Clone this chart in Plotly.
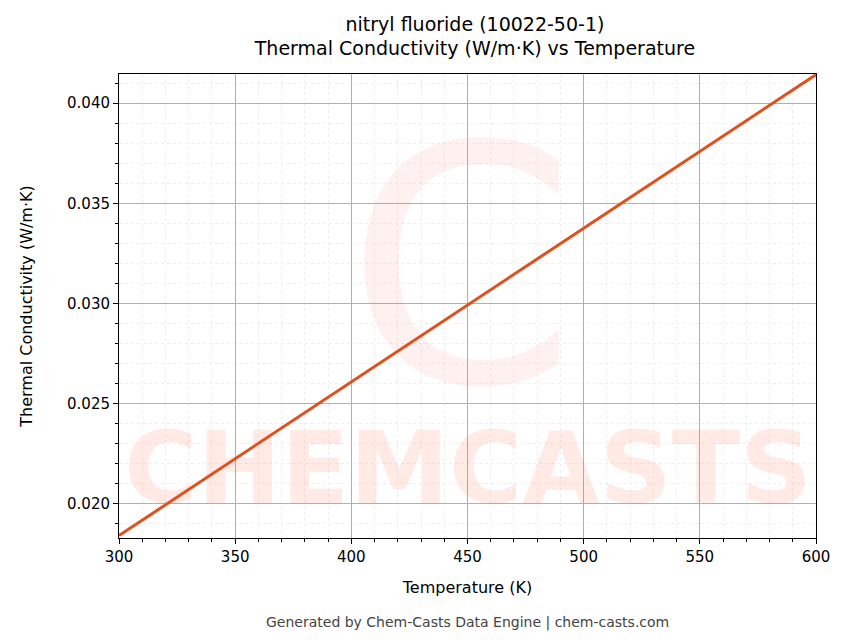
import plotly.graph_objects as go

temperature = [300, 350, 400, 450, 500, 550, 600]
conductivity = [0.01842, 0.02225, 0.02608, 0.02992, 0.03375, 0.03758, 0.04142]

fig = go.Figure()
fig.add_trace(go.Scatter(x=temperature, y=conductivity, mode="lines",
                         line=dict(color="#e0501e", width=3), showlegend=False))

minor = dict(showgrid=True, gridcolor="#eeeeee", gridwidth=0.5, griddash="dot", ticklen=3, tickcolor="black")
fig.update_xaxes(range=[300, 600], dtick=50, showgrid=True, gridcolor="#b0b0b0", gridwidth=0.7,
                 showline=True, linecolor="black", mirror=True, ticks="outside", tickcolor="black",
                 minor=dict(dtick=10, ticks="outside", **minor),
                 title=dict(text="Temperature (K)", font=dict(size=16), standoff=16), tickfont=dict(size=15), zeroline=False)
fig.update_yaxes(range=[0.0183, 0.04145], dtick=0.005, tickformat=".3f", showgrid=True, gridcolor="#b0b0b0",
                 gridwidth=0.7, showline=True, linecolor="black", mirror=True, ticks="outside", tickcolor="black",
                 minor=dict(dtick=0.001, ticks="outside", **minor),
                 title=dict(text="Thermal Conductivity (W/m·K)", font=dict(size=16), standoff=30), tickfont=dict(size=15), zeroline=False)

fig.add_annotation(text="<b>CHEMCASTS</b>", x=0.5, y=0.02, xref="paper", yref="paper", showarrow=False,
                   yanchor="bottom", font=dict(size=100, color="rgba(255,80,50,0.12)", family="DejaVu Sans"))
fig.add_annotation(text="C", x=0.49, y=1.0, xref="paper", yref="paper", showarrow=False, yanchor="top",
                   font=dict(size=330, color="rgba(255,80,50,0.08)", family="DejaVu Sans"))
fig.add_annotation(text="Generated by Chem-Casts Data Engine | chem-casts.com", x=0.5, y=-0.16,
                   xref="paper", yref="paper", showarrow=False, yanchor="top", font=dict(size=14, color="#444444"))

fig.update_layout(width=849, height=644, plot_bgcolor="white", paper_bgcolor="white",
                  font=dict(family="DejaVu Sans", color="black"),
                  title=dict(text="nitryl fluoride (10022-50-1)<br>Thermal Conductivity (W/m·K) vs Temperature",
                             x=0.55, xanchor="center", y=0.965, font=dict(size=19)),
                  margin=dict(l=111, r=41, t=66, b=114))
fig.write_html("out.html")
